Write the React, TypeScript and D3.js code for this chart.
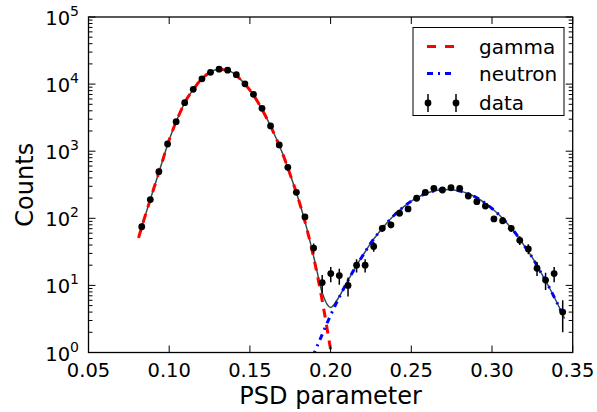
import React from 'react';
import * as d3 from 'd3';

// measured data (PSD bin centres and counts)
const psdBins = [
  0.0830, 0.0883, 0.0936, 0.0990, 0.1043, 0.1096, 0.1149, 0.1203, 0.1256, 0.1309,
  0.1362, 0.1416, 0.1469, 0.1522, 0.1575, 0.1628, 0.1682, 0.1735, 0.1788, 0.1841,
  0.1895, 0.1948, 0.2001, 0.2054, 0.2108, 0.2161, 0.2214, 0.2267, 0.2320, 0.2374,
  0.2427, 0.2480, 0.2533, 0.2587, 0.2640, 0.2693, 0.2746, 0.2800, 0.2853, 0.2906,
  0.2959, 0.3012, 0.3066, 0.3119, 0.3172, 0.3225, 0.3279, 0.3332, 0.3385, 0.3438,
];
const counts = [
  75, 190, 495, 1280, 2750, 5290, 8360, 12000, 15000, 16700,
  16100, 13800, 10100, 7050, 4360, 2380, 1240, 575, 244, 105,
  36, 11, 15, 14, 10, 20, 20, 38, 71, 80,
  119, 138, 199, 243, 280, 264, 286, 280, 215, 177,
  152, 98, 92, 71, 47, 35, 18, 12, 15, 4,
];

// fit curves
const fitX = [
  0.081, 0.085, 0.090, 0.095, 0.100, 0.105, 0.110, 0.115, 0.120, 0.125,
  0.130, 0.135, 0.140, 0.145, 0.150, 0.155, 0.160, 0.165, 0.170, 0.175,
  0.180, 0.185, 0.190, 0.195, 0.200, 0.205, 0.210, 0.215, 0.220, 0.225,
  0.230, 0.235, 0.240, 0.245, 0.250, 0.255, 0.260, 0.265, 0.270, 0.275,
  0.280, 0.285, 0.290, 0.295, 0.300, 0.305, 0.310, 0.315, 0.320, 0.325,
  0.330, 0.335, 0.340, 0.345,
];
const gammaFit = [
  51, 107, 257, 617, 1480, 3020, 5500, 8360, 11900, 14800,
  16500, 16400, 14500, 11200, 8130, 5370, 3240, 1820, 955, 447,
  195, 74, 23, 5.6, 1.1, 0.2, 0, 0, 0, 0,
  0, 0, 0, 0, 0, 0, 0, 0, 0, 0,
  0, 0, 0, 0, 0, 0, 0, 0, 0, 0,
  0, 0, 0, 0,
];
const neutronFit = [
  0, 0, 0, 0, 0, 0, 0, 0, 0, 0,
  0, 0, 0, 0, 0, 0, 0, 0, 0, 0,
  0, 0.49, 1.0, 1.9, 3.6, 6.4, 10.9, 18, 28, 43,
  62, 86, 115, 147, 180, 211, 239, 258, 269, 267,
  255, 234, 206, 173, 140, 109, 81, 58, 39, 26,
  16, 9.8, 5.7, 3.2,
];

const xTicks = [0.05, 0.10, 0.15, 0.20, 0.25, 0.30, 0.35];
const yExponents = [0, 1, 2, 3, 4, 5];

const W = 597, H = 412;
const left = 88.5, right = 572.7, top = 17, bottom = 352.5;
const font = 'DejaVu Sans, sans-serif';
const gammaDash = '9,7';
const neutronDash = '6,5,2,5';

export default function App() {
  const x = d3.scaleLinear().domain([0.05, 0.35]).range([left, right]);
  const y = d3.scaleLog().domain([1, 1e5]).range([bottom, top]);

  const fits = fitX.map((v, i) => ({ x: v, g: gammaFit[i], n: neutronFit[i], s: gammaFit[i] + neutronFit[i] }));

  const line = (key: 'g' | 'n' | 's') =>
    d3.line<any>()
      .defined(d => d[key] > 0)
      .x(d => x(d.x))
      .y(d => y(d[key]))
      .curve(d3.curveMonotoneX)(fits) || '';

  const minor: number[] = [];
  for (let e = 0; e < 5; e++) for (let m = 2; m <= 9; m++) minor.push(m * Math.pow(10, e));

  const pts = psdBins.map((v, i) => ({ x: v, c: counts[i], err: Math.sqrt(counts[i]) }));

  return (
    <svg width={W} height={H} style={{ position: 'absolute', left: 0, top: 0 }} fontFamily={font}>
      <rect width={W} height={H} fill="#fff" />
      <defs>
        <clipPath id="plot">
          <rect x={left} y={top} width={right - left} height={bottom - top} />
        </clipPath>
      </defs>

      <g clipPath="url(#plot)">
        <path d={line('s')} fill="none" stroke="#2f4f4f" strokeWidth={1.5} />
        <path d={line('g')} fill="none" stroke="#ff0000" strokeWidth={3} strokeDasharray={gammaDash} />
        <path d={line('n')} fill="none" stroke="#0000ff" strokeWidth={3} strokeDasharray={neutronDash} />
        {pts.map((p, i) => (
          <g key={i}>
            <line x1={x(p.x)} x2={x(p.x)} y1={y(Math.max(p.c - p.err, 0.5))} y2={y(p.c + p.err)} stroke="#000" strokeWidth={1.5} />
            <circle cx={x(p.x)} cy={y(p.c)} r={3.4} fill="#000" />
          </g>
        ))}
      </g>

      {/* frame */}
      <rect x={left} y={top} width={right - left} height={bottom - top} fill="none" stroke="#000" strokeWidth={1.3} />

      {/* x ticks */}
      {xTicks.map(t => (
        <g key={t}>
          <line x1={x(t)} x2={x(t)} y1={bottom} y2={bottom - 7} stroke="#000" />
          <line x1={x(t)} x2={x(t)} y1={top} y2={top + 7} stroke="#000" />
          <text x={x(t)} y={377} textAnchor="middle" fontSize={19.5}>{d3.format('.2f')(t)}</text>
        </g>
      ))}

      {/* y ticks */}
      {yExponents.map(e => (
        <g key={e}>
          <line x1={left} x2={left + 7} y1={y(Math.pow(10, e))} y2={y(Math.pow(10, e))} stroke="#000" />
          <line x1={right} x2={right - 7} y1={y(Math.pow(10, e))} y2={y(Math.pow(10, e))} stroke="#000" />
          <text x={79} y={y(Math.pow(10, e)) + 8} textAnchor="end" fontSize={19.5}>
            10<tspan fontSize={14} dy={-9}>{e}</tspan>
          </text>
        </g>
      ))}
      {minor.map(m => (
        <g key={m}>
          <line x1={left} x2={left + 4} y1={y(m)} y2={y(m)} stroke="#000" />
          <line x1={right} x2={right - 4} y1={y(m)} y2={y(m)} stroke="#000" />
        </g>
      ))}

      <text x={(left + right) / 2} y={404} textAnchor="middle" fontSize={24}>PSD parameter</text>
      <text transform={`translate(33,${(top + bottom) / 2}) rotate(-90)`} textAnchor="middle" fontSize={24}>Counts</text>

      {/* legend */}
      <rect x={413} y={27.5} width={151} height={88} fill="#fff" stroke="#000" strokeWidth={1} />
      <line x1={427} x2={454} y1={46.5} y2={46.5} stroke="#ff0000" strokeWidth={3} strokeDasharray="9,9" />
      <text x={479} y={53.5} fontSize={20}>gamma</text>
      <line x1={427} x2={454} y1={73.5} y2={73.5} stroke="#0000ff" strokeWidth={3} strokeDasharray={neutronDash} />
      <text x={479} y={80.5} fontSize={20}>neutron</text>
      {[428, 456].map(cx => (
        <g key={cx}>
          <line x1={cx} x2={cx} y1={94} y2={112} stroke="#000" strokeWidth={1.5} />
          <circle cx={cx} cy={103} r={3.4} fill="#000" />
        </g>
      ))}
      <text x={479} y={109.5} fontSize={20}>data</text>
    </svg>
  );
}
